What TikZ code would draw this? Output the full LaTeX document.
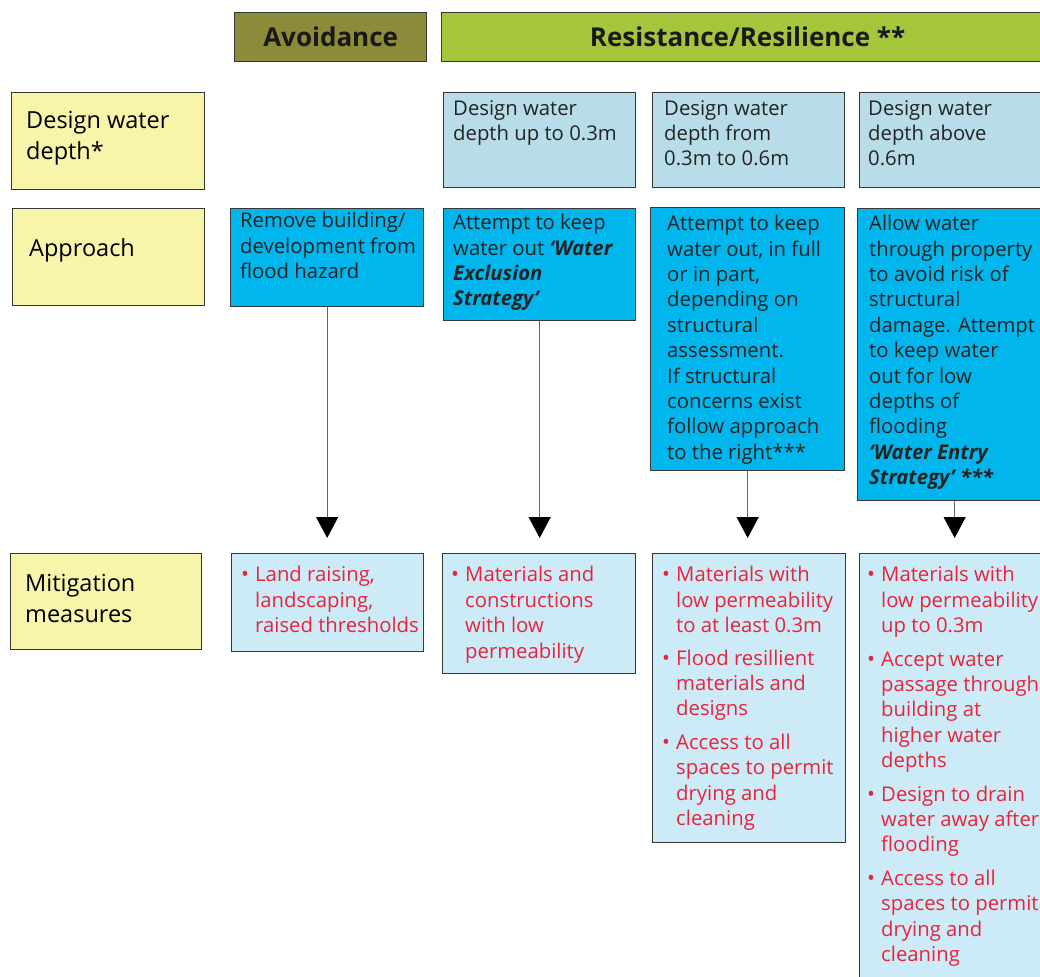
\documentclass[tikz,border=0pt]{standalone}
\usepackage{fontspec}
\setmainfont{Open Sans}
\usetikzlibrary{arrows.meta}
\definecolor{edgecol}{RGB}{55,55,55}
\definecolor{inkcol}{RGB}{35,35,35}
\definecolor{redcol}{RGB}{232,35,60}
\definecolor{avoidcol}{RGB}{140,139,58}
\definecolor{resicol}{RGB}{165,198,59}
\definecolor{labelcol}{RGB}{248,244,170}
\definecolor{depthcol}{RGB}{184,221,232}
\definecolor{appcol}{RGB}{0,182,237}
\definecolor{mitcol}{RGB}{205,235,246}
\definecolor{flowcol}{RGB}{100,100,100}
\newcommand\bul{\makebox[14pt][l]{\fontsize{21}{21}\selectfont•}}
\newcommand\bi[1]{\textbf{\textit{#1}}}
\begin{document}
\begin{tikzpicture}[x=1pt, y=-1pt,
    box/.style={draw=edgecol, line width=1.3pt, anchor=north west, inner sep=0pt},
    head/.style={box, font=\bfseries\fontsize{26}{30}\selectfont, text=black!90},
    label/.style={anchor=north west, align=left, inner sep=0pt, font=\fontsize{23.5}{31}\selectfont},
    body/.style={anchor=north west, align=left, inner sep=0pt, text=inkcol, font=\fontsize{20.3}{25.4}\selectfont},
    bullets/.style={anchor=north west, inner sep=0pt, text=redcol, font=\fontsize{20.3}{25.4}\selectfont},
    flow/.style={draw=flowcol, line width=1.3pt, shorten >=15pt, -{Triangle[width=22pt,length=21pt,color=black]}}]
\useasboundingbox (0,0) rectangle (1040,976);
\clip (0,0) rectangle (1040,976);

% headers
\node[head, fill=avoidcol, minimum width=192pt, minimum height=49pt] (avoid) at (234,12) {Avoidance};
\node[head, fill=resicol, minimum width=612pt, minimum height=49pt] (resi) at (441,12) {Resistance/Resilience **};

% row labels
\node[box, fill=labelcol, minimum width=193pt, minimum height=97pt] (lbldepth) at (11,92) {};
\node[box, fill=labelcol, minimum width=192pt, minimum height=97pt] (lblapp) at (12,208) {};
\node[box, fill=labelcol, minimum width=191pt, minimum height=96pt] (lblmit) at (10,553) {};
\node[label] (lbldeptht) at ([xshift=15pt,yshift=-19pt]lbldepth.north west) {Design water\\depth*};
\node[label] (lblappt) at ([xshift=17pt,yshift=-30pt]lblapp.north west) {Approach};
\node[label] (lblmitt) at ([xshift=15pt,yshift=-21pt]lblmit.north west) {Mitigation\\measures};

% design water depth
\node[box, fill=depthcol, minimum width=192pt, minimum height=95pt] (dep2) at (443,92) {};
\node[box, fill=depthcol, minimum width=192pt, minimum height=95pt] (dep3) at (652,92) {};
\node[box, fill=depthcol, minimum width=194pt, minimum height=95pt] (dep4) at (859,92) {};
\node[body] (dep2t) at ([xshift=10pt,yshift=-8pt]dep2.north west) {Design water\\depth up to 0.3m};
\node[body] (dep3t) at ([xshift=12pt,yshift=-8pt]dep3.north west) {Design water\\depth from\\0.3m to 0.6m};
\node[body] (dep4t) at ([xshift=9pt,yshift=-8pt]dep4.north west) {Design water\\depth above\\0.6m};

% approach
\node[box, fill=appcol, minimum width=193pt, minimum height=98pt] (app1) at (230,208) {};
\node[box, fill=appcol, minimum width=192pt, minimum height=112pt] (app2) at (443,208) {};
\node[box, fill=appcol, minimum width=194pt, minimum height=263pt] (app3) at (650,207) {};
\node[box, fill=appcol, minimum width=194pt, minimum height=292pt] (app4) at (857,208) {};
\node[body] (app1t) at ([xshift=10pt,yshift=-4pt]app1.north west) {Remove building/\\development from\\flood hazard};
\node[body] (app2t) at ([xshift=10pt,yshift=-6pt]app2.north west) {Attempt to keep\\water out \bi{‘Water}\\\bi{Exclusion}\\\bi{Strategy’}};
\node[body] (app3t) at ([xshift=17pt,yshift=-8pt]app3.north west) {Attempt to keep\\water out, in full\\or in part,\\depending on\\structural\\assessment.\\If structural\\concerns exist\\follow approach\\to the right***};
\node[body] (app4t) at ([xshift=12pt,yshift=-7pt]app4.north west) {Allow water\\through property\\to avoid risk of\\structural\\damage. Attempt\\to keep water\\out for low\\depths of\\flooding\\\bi{‘Water Entry}\\\bi{Strategy’ ***}};

% mitigation measures
\node[box, fill=mitcol, minimum width=192pt, minimum height=98pt] (mit1) at (231,553) {};
\node[box, fill=mitcol, minimum width=193pt, minimum height=120pt] (mit2) at (442,553) {};
\node[box, fill=mitcol, minimum width=193pt, minimum height=289pt] (mit3) at (652,553) {};
\node[box, fill=mitcol, minimum width=192pt, minimum height=500pt] (mit4) at (859,553) {};
\node[bullets] (mit1t) at ([xshift=10pt,yshift=-11pt]mit1.north west) {\begin{tabular}{@{}l@{}l@{}}
\bul & Land raising,\\ & landscaping,\\ & raised thresholds\end{tabular}};
\node[bullets] (mit2t) at ([xshift=9pt,yshift=-11pt]mit2.north west) {\begin{tabular}{@{}l@{}l@{}}
\bul & Materials and\\ & constructions\\ & with low\\ & permeability\end{tabular}};
\node[bullets] (mit3t) at ([xshift=10pt,yshift=-11pt]mit3.north west) {\begin{tabular}{@{}l@{}l@{}}
\bul & Materials with\\ & low permeability\\ & to at least 0.3m\\[7pt]
\bul & Flood resillient\\ & materials and\\ & designs\\[8pt]
\bul & Access to all\\ & spaces to permit\\ & drying and\\ & cleaning\end{tabular}};
\node[bullets] (mit4t) at ([xshift=8pt,yshift=-11pt]mit4.north west) {\begin{tabular}{@{}l@{}l@{}}
\bul & Materials with\\ & low permeability\\ & up to 0.3m\\[8pt]
\bul & Accept water\\ & passage through\\ & building at\\ & higher water\\ & depths\\[8pt]
\bul & Design to drain\\ & water away after\\ & flooding\\[8pt]
\bul & Access to all\\ & spaces to permit\\ & drying and\\ & cleaning\end{tabular}};

% arrows
\foreach \a/\m in {app1/mit1, app2/mit2, app3/mit3, app4/mit4}
    \draw[flow] (\a.south) -- (\a.south |- \m.north);
\end{tikzpicture}
\end{document}
